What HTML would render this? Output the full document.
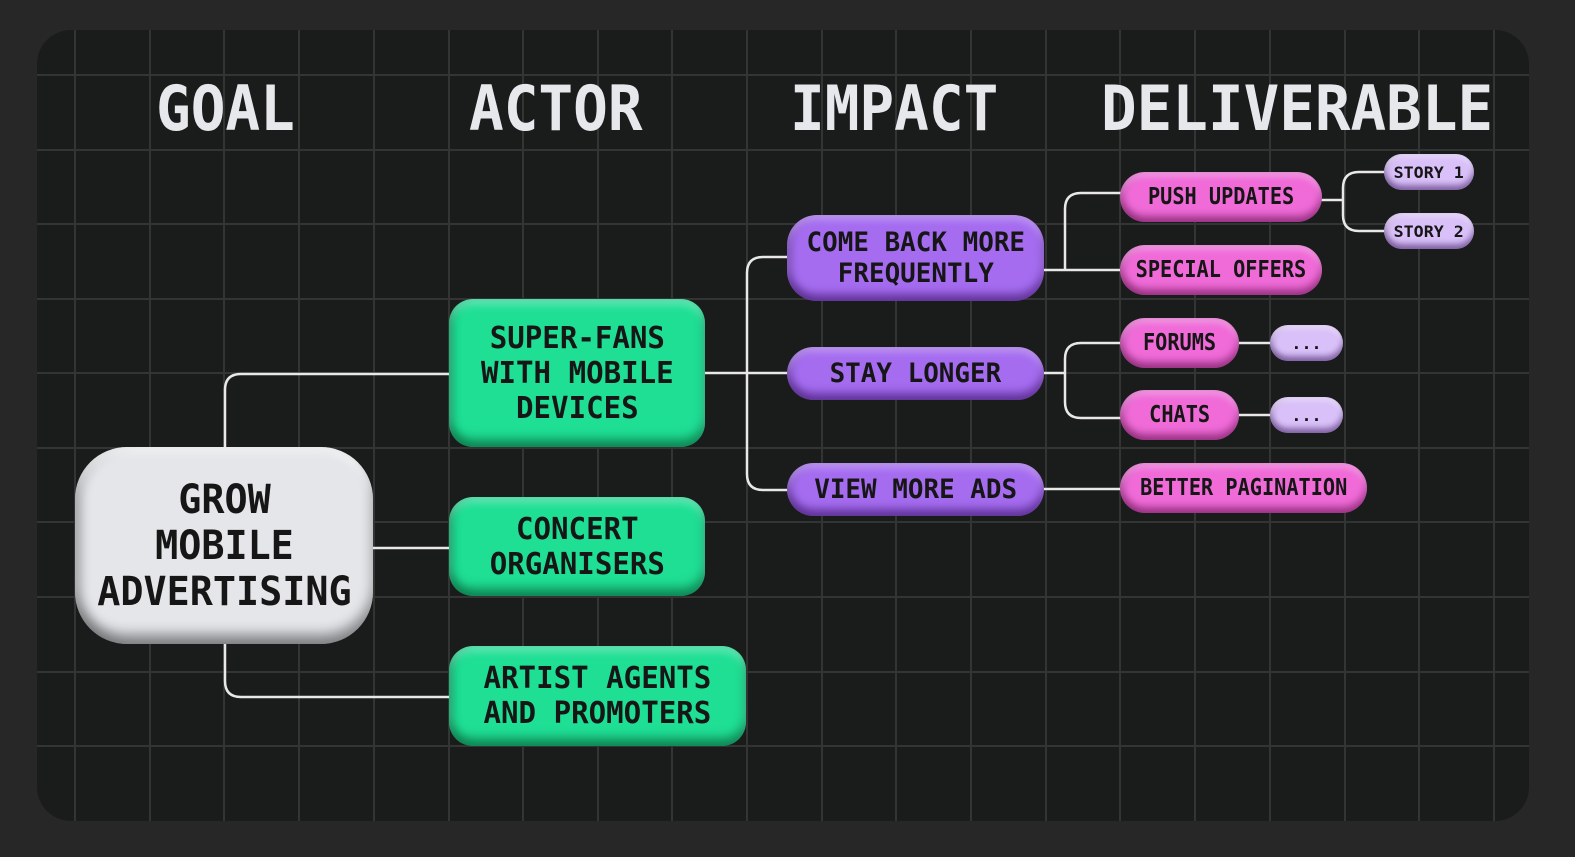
<!DOCTYPE html>
<html><head><meta charset="utf-8"><style>
html,body{margin:0;padding:0;width:1575px;height:857px;background:#272727;overflow:hidden}
#panel{position:absolute;left:37px;top:30px;width:1492px;height:791px;background:#1a1b1b;border-radius:34px;overflow:hidden}
svg{position:absolute;left:0;top:0}
.t{position:absolute;font-family:"DejaVu Sans Mono","Liberation Mono",monospace;font-weight:bold;color:#e6e8ec;font-size:62px;line-height:62px;white-space:nowrap}
.t span,.n span{display:inline-block}
.n{position:absolute;display:flex;align-items:center;justify-content:center;text-align:center;font-family:"DejaVu Sans Mono","Liberation Mono",monospace;font-weight:bold;color:#161616;white-space:nowrap;box-sizing:border-box}
.g{background:#1fdf95;border-radius:24px;font-size:30px;line-height:35px;box-shadow:inset 0 -8px 10px rgba(0,60,30,.5),inset 0 6px 8px rgba(255,255,255,.3),inset 6px 0 8px rgba(0,0,0,.12)}
.g span{transform:scaleX(.97)}
.w{background:#e4e6ea;border-radius:52px;font-size:40px;line-height:46px;box-shadow:inset 0 -10px 12px rgba(0,0,0,.4),inset 0 6px 8px rgba(255,255,255,.6),inset 8px 0 10px rgba(0,0,0,.15)}
.w span{transform:scaleX(.96)}
.p{background:#a56cf0;border-radius:30px;font-size:27px;line-height:31px;box-shadow:inset 0 -7px 9px rgba(40,0,80,.5),inset 0 5px 7px rgba(255,255,255,.3),inset 6px 0 8px rgba(0,0,0,.12)}
.p span{transform:scaleX(.96)}
.k{background:#f06bd8;border-radius:26px;font-size:23px;box-shadow:inset 0 -6px 8px rgba(80,0,60,.5),inset 0 5px 6px rgba(255,255,255,.3),inset 5px 0 7px rgba(0,0,0,.12)}
.k span{transform:scaleX(.88)}
.l{background:#d9c0f8;border-radius:18px;font-size:16px;box-shadow:inset 0 -5px 6px rgba(40,0,80,.45),inset 0 4px 5px rgba(255,255,255,.4),inset 4px 0 6px rgba(0,0,0,.12)}
.l span{transform:scaleX(1.04)}
</style></head><body>
<div id="panel"></div>
<svg width="1575" height="857">
<defs><clipPath id="c"><rect x="37" y="30" width="1492" height="791" rx="34"/></clipPath></defs>
<g clip-path="url(#c)" stroke="#333535" stroke-width="2">
<line x1="75" y1="0" x2="75" y2="857"/><line x1="150" y1="0" x2="150" y2="857"/><line x1="224" y1="0" x2="224" y2="857"/><line x1="299" y1="0" x2="299" y2="857"/><line x1="374" y1="0" x2="374" y2="857"/><line x1="449" y1="0" x2="449" y2="857"/><line x1="523" y1="0" x2="523" y2="857"/><line x1="598" y1="0" x2="598" y2="857"/><line x1="672" y1="0" x2="672" y2="857"/><line x1="747" y1="0" x2="747" y2="857"/><line x1="822" y1="0" x2="822" y2="857"/><line x1="896" y1="0" x2="896" y2="857"/><line x1="971" y1="0" x2="971" y2="857"/><line x1="1046" y1="0" x2="1046" y2="857"/><line x1="1120" y1="0" x2="1120" y2="857"/><line x1="1195" y1="0" x2="1195" y2="857"/><line x1="1270" y1="0" x2="1270" y2="857"/><line x1="1345" y1="0" x2="1345" y2="857"/><line x1="1419" y1="0" x2="1419" y2="857"/><line x1="1494" y1="0" x2="1494" y2="857"/>
<line x1="0" y1="75" x2="1575" y2="75"/><line x1="0" y1="150" x2="1575" y2="150"/><line x1="0" y1="224" x2="1575" y2="224"/><line x1="0" y1="299" x2="1575" y2="299"/><line x1="0" y1="373" x2="1575" y2="373"/><line x1="0" y1="448" x2="1575" y2="448"/><line x1="0" y1="522" x2="1575" y2="522"/><line x1="0" y1="597" x2="1575" y2="597"/><line x1="0" y1="672" x2="1575" y2="672"/><line x1="0" y1="746" x2="1575" y2="746"/>
</g>
<g fill="none" stroke="#e8e8e8" stroke-width="2.5">
<path d="M225 450 V390 Q225 374 241 374 H450"/>
<path d="M225 640 V681 Q225 697 241 697 H450"/>
<path d="M370 548 H450"/>
<path d="M704 373 H788"/>
<path d="M788 257 H763 Q747 257 747 273 V474 Q747 490 763 490 H788"/>
<path d="M1042 270 H1120"/>
<path d="M1065 270 V209 Q1065 193 1081 193 H1122"/>
<path d="M1042 373 H1065"/>
<path d="M1122 343 H1081 Q1065 343 1065 359 V402 Q1065 418 1081 418 H1122"/>
<path d="M1042 489 H1122"/>
<path d="M1320 200 H1343"/>
<path d="M1386 172 H1359 Q1343 172 1343 188 V215 Q1343 231 1359 231 H1386"/>
<path d="M1237 343 H1272"/>
<path d="M1237 415 H1272"/>
</g>
</svg>
<div class="t" style="left:156px;top:78px"><span style="transform:scaleX(.93);transform-origin:left">GOAL</span></div>
<div class="t" style="left:469px;top:78px"><span style="transform:scaleX(.93);transform-origin:left">ACTOR</span></div>
<div class="t" style="left:790px;top:78px"><span style="transform:scaleX(.93);transform-origin:left">IMPACT</span></div>
<div class="t" style="left:1101px;top:78px"><span style="transform:scaleX(.955);transform-origin:left">DELIVERABLE</span></div>

<div class="n w" style="left:75px;top:447px;width:298px;height:197px"><span>GROW<br>MOBILE<br>ADVERTISING</span></div>
<div class="n g" style="left:449px;top:299px;width:256px;height:148px"><span>SUPER-FANS<br>WITH MOBILE<br>DEVICES</span></div>
<div class="n g" style="left:449px;top:497px;width:256px;height:99px"><span>CONCERT<br>ORGANISERS</span></div>
<div class="n g" style="left:449px;top:646px;width:297px;height:100px"><span>ARTIST AGENTS<br>AND PROMOTERS</span></div>

<div class="n p" style="left:787px;top:215px;width:257px;height:86px"><span>COME BACK MORE<br>FREQUENTLY</span></div>
<div class="n p" style="left:787px;top:347px;width:257px;height:53px"><span>STAY LONGER</span></div>
<div class="n p" style="left:787px;top:463px;width:257px;height:53px"><span>VIEW MORE ADS</span></div>

<div class="n k" style="left:1120px;top:172px;width:202px;height:50px"><span>PUSH UPDATES</span></div>
<div class="n k" style="left:1120px;top:245px;width:202px;height:50px"><span>SPECIAL OFFERS</span></div>
<div class="n k" style="left:1120px;top:318px;width:119px;height:50px"><span>FORUMS</span></div>
<div class="n k" style="left:1120px;top:390px;width:119px;height:50px"><span>CHATS</span></div>
<div class="n k" style="left:1120px;top:463px;width:247px;height:50px"><span>BETTER PAGINATION</span></div>

<div class="n l" style="left:1384px;top:154px;width:90px;height:36px"><span>STORY 1</span></div>
<div class="n l" style="left:1384px;top:213px;width:90px;height:36px"><span>STORY 2</span></div>
<div class="n l" style="left:1270px;top:325px;width:73px;height:36px"><span>...</span></div>
<div class="n l" style="left:1270px;top:397px;width:73px;height:36px"><span>...</span></div>
</body></html>
